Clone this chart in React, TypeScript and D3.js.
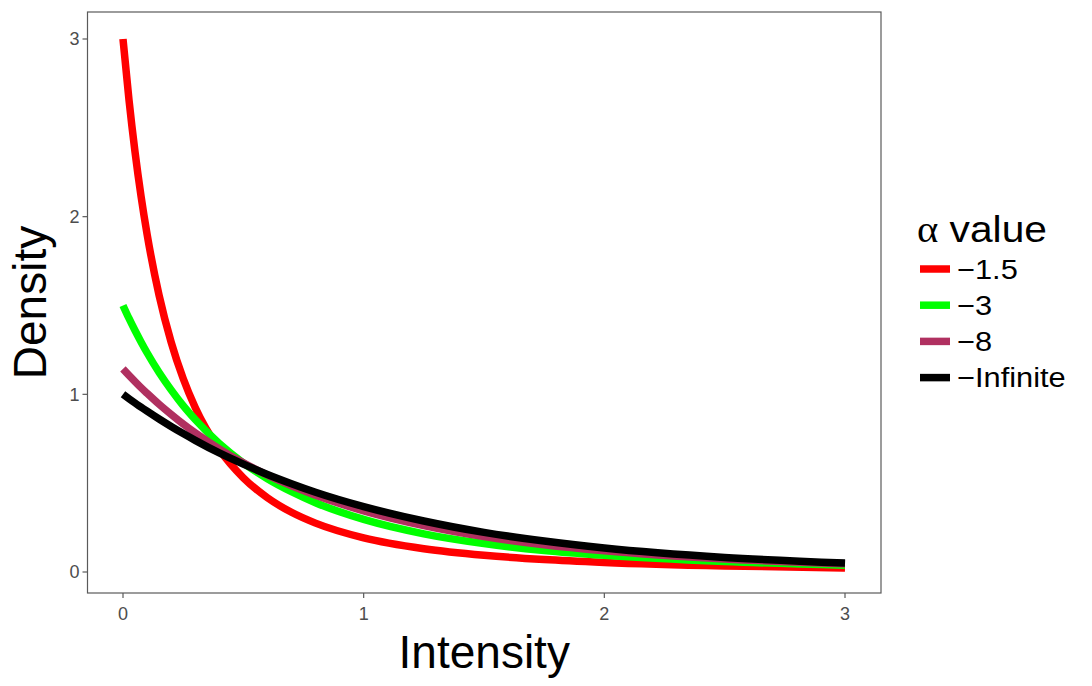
import React, { useEffect, useRef } from 'react';
import * as d3 from 'd3';

// intensity grid the curves were read at
const intensity = [0, 0.025, 0.05, 0.075, 0.1, 0.15, 0.2, 0.25, 0.3, 0.4, 0.5, 0.6, 0.7, 0.8, 1.0, 1.25, 1.5, 1.75, 2.0, 2.5, 3.0];

const alpha15 = [3.0, 2.656, 2.364, 2.115, 1.902, 1.557, 1.294, 1.089, 0.926, 0.69, 0.53, 0.418, 0.336, 0.275, 0.192, 0.131, 0.094, 0.07, 0.054, 0.034, 0.023];
const alpha3 = [1.5, 1.427, 1.359, 1.295, 1.234, 1.123, 1.025, 0.936, 0.858, 0.723, 0.614, 0.525, 0.452, 0.39, 0.296, 0.215, 0.16, 0.121, 0.094, 0.059, 0.038];
const alpha8 = [1.143, 1.107, 1.072, 1.038, 1.006, 0.944, 0.887, 0.833, 0.783, 0.693, 0.614, 0.545, 0.485, 0.432, 0.344, 0.261, 0.199, 0.153, 0.119, 0.073, 0.046];
const alphaInf = [1.0, 0.975, 0.951, 0.928, 0.905, 0.861, 0.819, 0.779, 0.741, 0.67, 0.607, 0.549, 0.497, 0.449, 0.368, 0.287, 0.223, 0.174, 0.135, 0.082, 0.05];

const seriesLabels = ['\u22121.5', '\u22123', '\u22128', '\u2212Infinite'];
const seriesColors = ['#ff0000', '#00ff00', '#b03060', '#000000'];
const seriesValues = [alpha15, alpha3, alpha8, alphaInf];

const xTicks = [0, 1, 2, 3];
const yTicks = [0, 1, 2, 3];

export default function App() {
  const ref = useRef(null);

  useEffect(() => {
    const W = 1092;
    const H = 686;
    const panel = { left: 87.5, top: 12, right: 881, bottom: 593 };

    const root = d3.select(ref.current);
    root.selectAll('*').remove();

    const svg = root
      .append('svg')
      .attr('width', W)
      .attr('height', H)
      .style('position', 'absolute')
      .style('left', 0)
      .style('top', 0)
      .style('font-family', '"Liberation Sans", Arial, sans-serif');

    svg.append('rect').attr('width', W).attr('height', H).attr('fill', '#fff');

    const x = d3.scaleLinear().domain([0, 3]).range([123, 845]);
    const y = d3.scaleLinear().domain([0, 3]).range([572, 39]);

    const line = d3
      .line<number>()
      .x((d, i) => x(intensity[i]))
      .y((d) => y(d))
      .curve(d3.curveMonotoneX);

    seriesValues.forEach((vals, k) => {
      svg
        .append('path')
        .datum(vals)
        .attr('fill', 'none')
        .attr('stroke', seriesColors[k])
        .attr('stroke-width', 7.5)
        .attr('stroke-linecap', 'butt')
        .attr('d', line);
    });

    // panel border
    svg
      .append('rect')
      .attr('x', panel.left)
      .attr('y', panel.top)
      .attr('width', panel.right - panel.left)
      .attr('height', panel.bottom - panel.top)
      .attr('fill', 'none')
      .attr('stroke', '#5a5a5a')
      .attr('stroke-width', 1.2);

    // y axis
    yTicks.forEach((t) => {
      svg.append('line')
        .attr('x1', panel.left - 5).attr('x2', panel.left)
        .attr('y1', y(t)).attr('y2', y(t))
        .attr('stroke', '#5a5a5a').attr('stroke-width', 1.2);
      svg.append('text')
        .attr('x', panel.left - 8)
        .attr('y', y(t))
        .attr('dy', '0.35em')
        .attr('text-anchor', 'end')
        .attr('fill', '#4d4d4d')
        .style('font-size', '18px')
        .text(t);
    });

    // x axis
    xTicks.forEach((t) => {
      svg.append('line')
        .attr('x1', x(t)).attr('x2', x(t))
        .attr('y1', panel.bottom).attr('y2', panel.bottom + 5)
        .attr('stroke', '#5a5a5a').attr('stroke-width', 1.2);
      svg.append('text')
        .attr('x', x(t))
        .attr('y', panel.bottom + 21)
        .attr('dy', '0.35em')
        .attr('text-anchor', 'middle')
        .attr('fill', '#4d4d4d')
        .style('font-size', '18px')
        .text(t);
    });

    svg.append('text')
      .attr('x', (panel.left + panel.right) / 2)
      .attr('y', 668)
      .attr('text-anchor', 'middle')
      .attr('fill', '#000')
      .style('font-size', '46px')
      .text('Intensity');

    svg.append('text')
      .attr('transform', `translate(46,${(panel.top + panel.bottom) / 2}) rotate(-90)`)
      .attr('text-anchor', 'middle')
      .attr('fill', '#000')
      .style('font-size', '46px')
      .text('Density');

    // legend (text is a touch wide in the original, hence the x stretch)
    const legend = svg.append('g');
    const title = legend.append('text')
      .attr('transform', 'translate(917,242) scale(1.1,1)')
      .attr('fill', '#000')
      .style('font-size', '37px');
    title.append('tspan').style('font-family', '"Liberation Serif", serif').text('\u03b1');
    title.append('tspan').text(' value');

    const rows = legend
      .selectAll('.key')
      .data(seriesLabels)
      .enter()
      .append('g')
      .attr('class', 'key')
      .attr('transform', (_, i) => `translate(0,${269 + i * 36.2})`);

    rows.append('line')
      .attr('x1', 920).attr('x2', 950)
      .attr('y1', 0).attr('y2', 0)
      .attr('stroke', (_, i) => seriesColors[i])
      .attr('stroke-width', 7.5);

    rows.append('text')
      .attr('transform', 'translate(957,0) scale(1.1,1)')
      .attr('dy', '0.35em')
      .attr('fill', '#000')
      .style('font-size', '28px')
      .text((d) => d);

    return () => {
      root.selectAll('*').remove();
    };
  }, []);

  return <div ref={ref}></div>;
}
